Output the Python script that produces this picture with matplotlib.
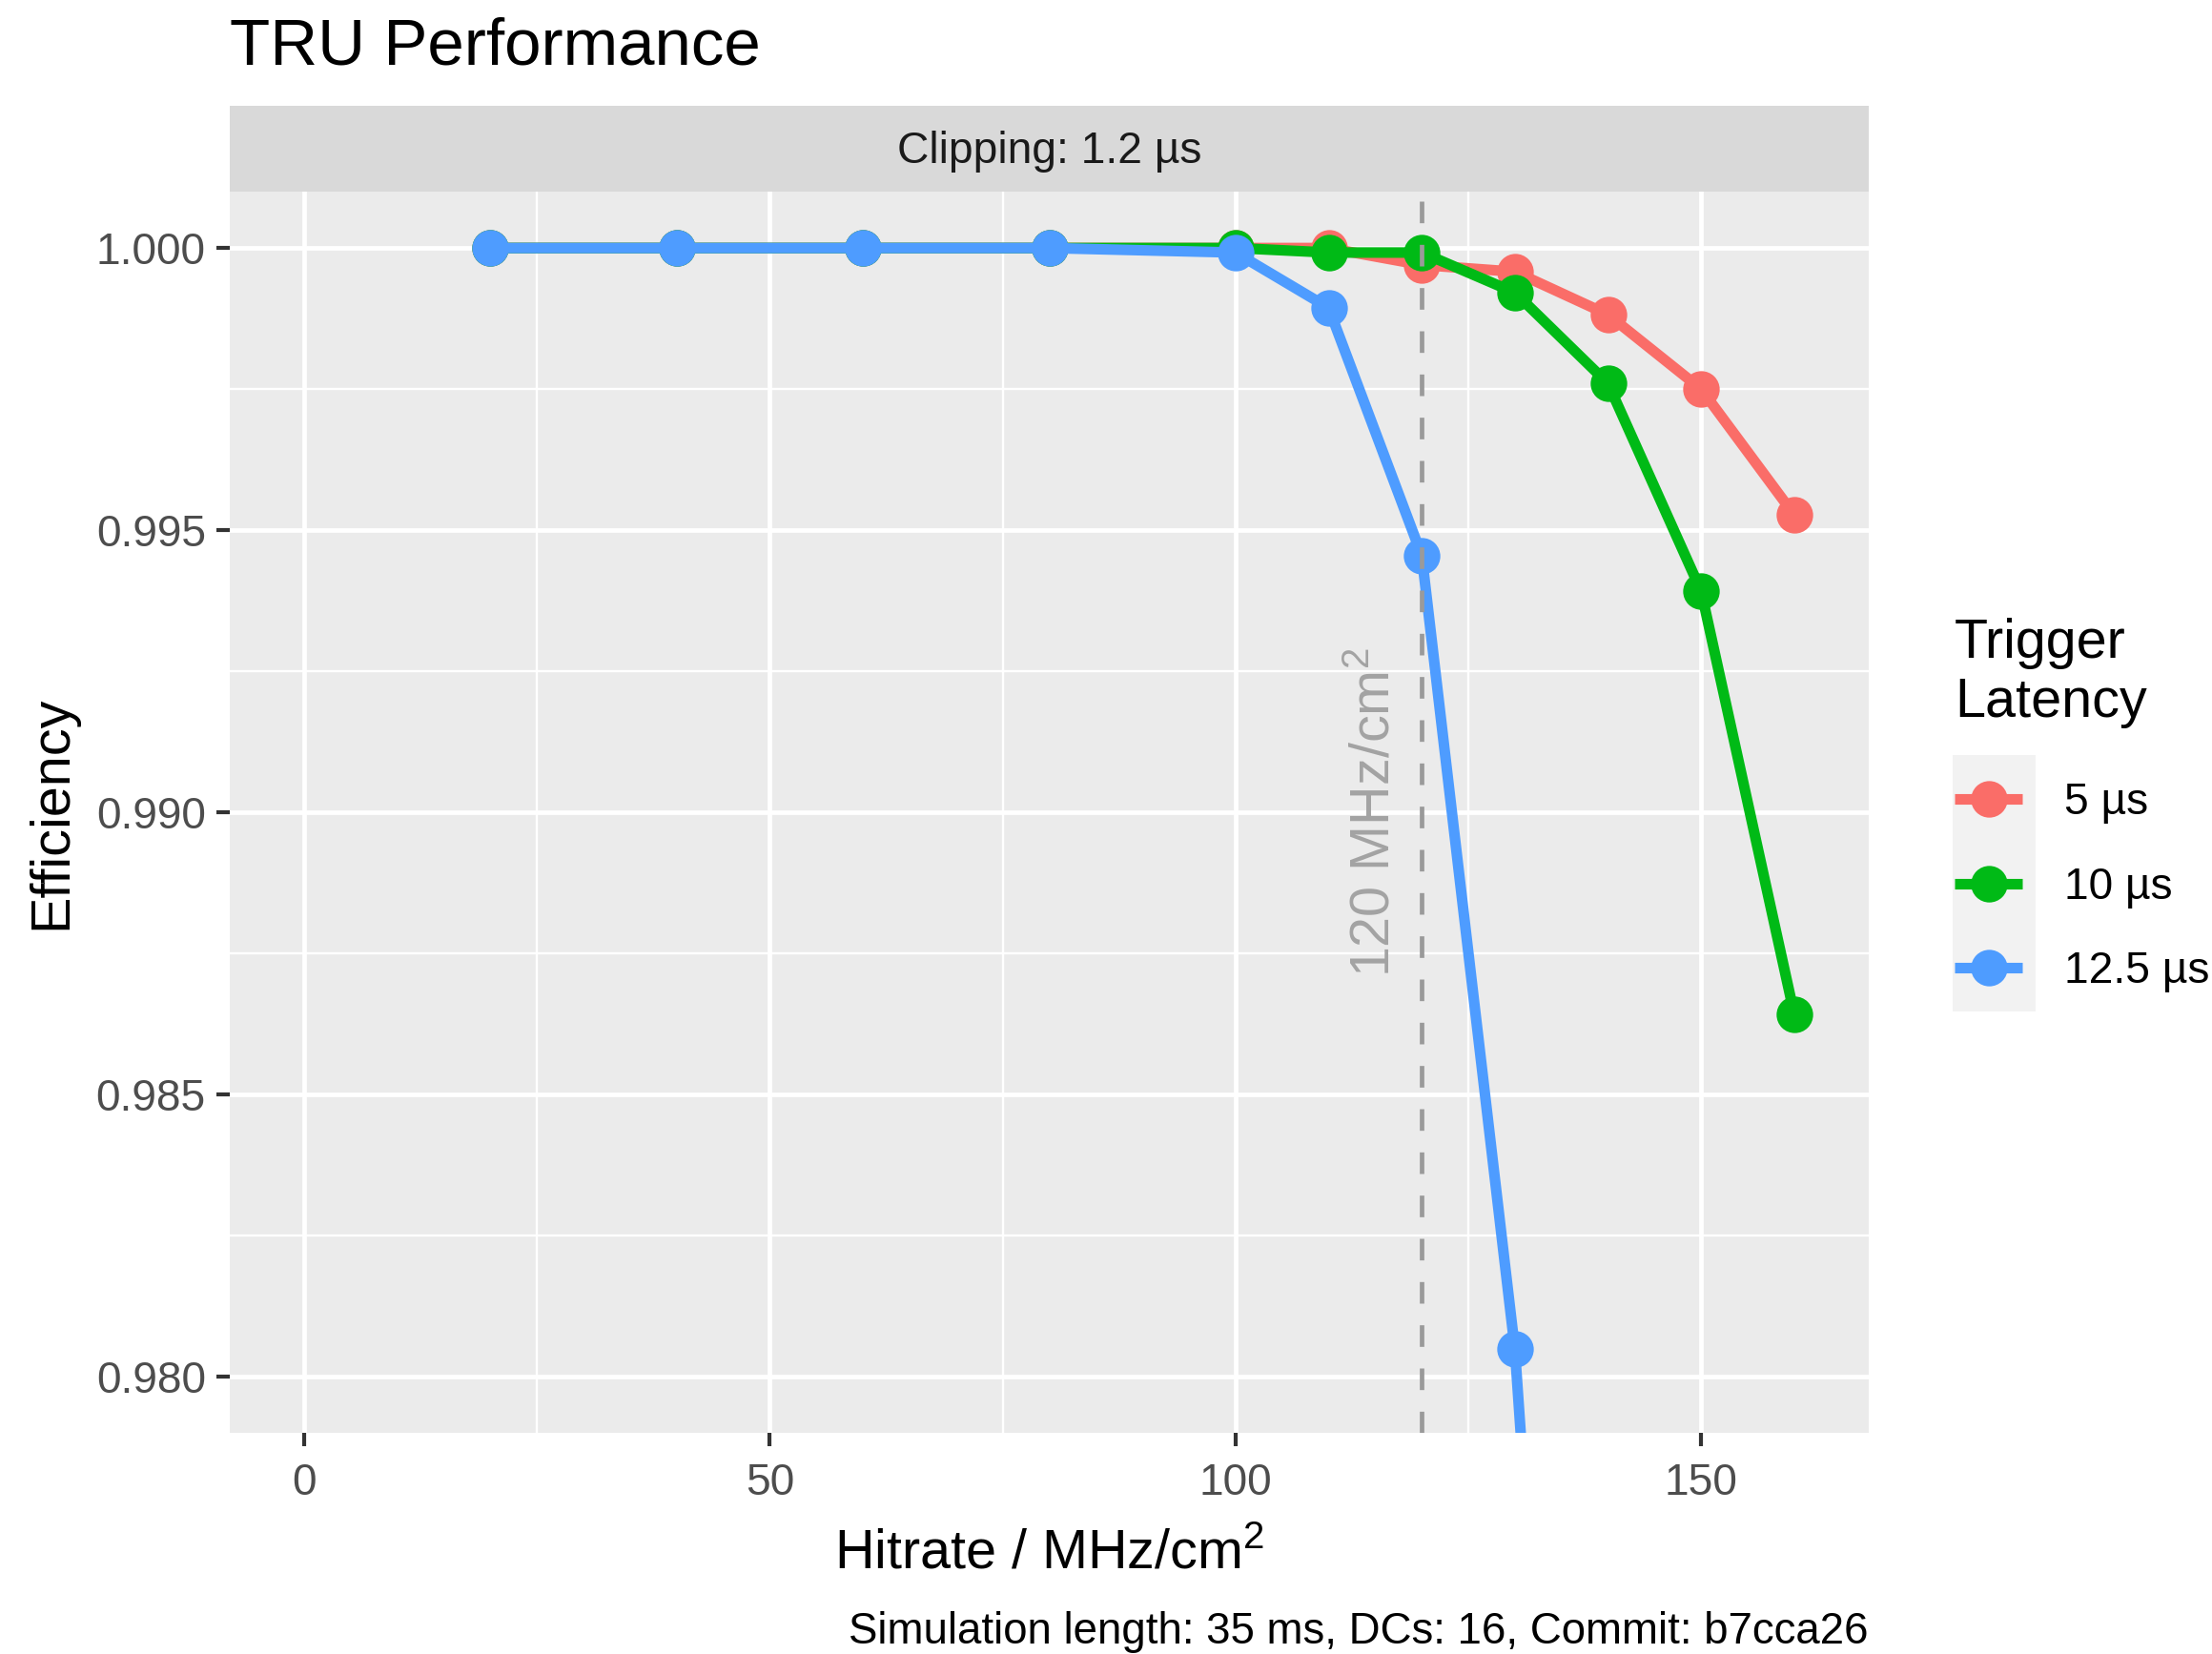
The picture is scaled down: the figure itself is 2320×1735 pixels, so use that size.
import matplotlib
matplotlib.use('Agg')
import matplotlib.pyplot as plt
from matplotlib.patches import Rectangle
from matplotlib.ticker import MultipleLocator, FormatStrFormatter

plt.rcParams['font.family'] = ['Liberation Sans', 'DejaVu Sans']
plt.rcParams['mathtext.fontset'] = 'custom'
plt.rcParams['mathtext.rm'] = 'Liberation Sans'
plt.rcParams['mathtext.it'] = 'Liberation Sans:italic'

# ---- data ----
latency_labels = ['5 µs', '10 µs', '12.5 µs']
series_colors = ['#FA6D68', '#00BA16', '#4E9CFF']

hitrate_5 = [20, 40, 60, 80, 100, 110, 120, 130, 140, 150, 160]
eff_5 = [1.0, 1.0, 1.0, 1.0, 1.0, 1.0, 0.9997, 0.99958, 0.99882, 0.9975, 0.99527]

hitrate_10 = [20, 40, 60, 80, 100, 110, 120, 130, 140, 150, 160]
eff_10 = [1.0, 1.0, 1.0, 1.0, 1.0, 0.99992, 0.99992, 0.99921, 0.9976, 0.99392, 0.98642]

hitrate_12_5 = [20, 40, 60, 80, 100, 110, 120, 130, 140]
eff_12_5 = [1.0, 1.0, 1.0, 1.0, 0.99992, 0.99894, 0.99455, 0.98048, 0.9567]

vline_x = 120
vline_label = '120 MHz/cm$^2$'
strip_label = 'Clipping: 1.2 µs'
title = 'TRU Performance'
xlabel = 'Hitrate / MHz/cm$^2$'
ylabel = 'Efficiency'
caption = 'Simulation length: 35 ms, DCs: 16, Commit: b7cca26'
x_ticks = [0, 50, 100, 150]
y_ticks = [0.980, 0.985, 0.990, 0.995, 1.000]

W, H = 2320, 1735
DPI = 200
fig = plt.figure(figsize=(W / DPI, H / DPI), dpi=DPI)

L, R, T, B = 241, 1960, 201, 1503
ax = fig.add_axes([L / W, 1 - B / H, (R - L) / W, (B - T) / H])
ax.set_facecolor('#EBEBEB')
for s in ax.spines.values():
    s.set_visible(False)

ax.set_xlim(-8, 168)
ax.set_ylim(0.979, 1.001)
ax.xaxis.set_minor_locator(MultipleLocator(25))
ax.yaxis.set_minor_locator(MultipleLocator(0.0025))
ax.set_xticks(x_ticks)
ax.set_yticks(y_ticks)
ax.yaxis.set_major_formatter(FormatStrFormatter('%.3f'))
ax.grid(which='major', color='white', linewidth=1.7)
ax.grid(which='minor', color='white', linewidth=0.85)
ax.set_axisbelow(True)
ax.tick_params(which='major', length=5, width=1.5, color='#333333',
               labelsize=16.6, labelcolor='#4D4D4D', pad=4)
ax.tick_params(axis='x', which='major', pad=6)
ax.tick_params(which='minor', length=0)

handles = []
for xs, ys, c, lab in [(hitrate_5, eff_5, series_colors[0], latency_labels[0]),
                       (hitrate_10, eff_10, series_colors[1], latency_labels[1]),
                       (hitrate_12_5, eff_12_5, series_colors[2], latency_labels[2])]:
    h, = ax.plot(xs, ys, color=c, linewidth=4.0, marker='o', markersize=12.8,
                 label=lab, zorder=3, solid_capstyle='butt')
    handles.append(h)

ax.axvline(vline_x, color='#9A9A9A', linewidth=1.7, dashes=(4.8, 4.8), zorder=4)
ax.text(115, 0.990, vline_label, rotation=90, ha='center', va='center',
        fontsize=20.7, color='#A3A3A3', zorder=4)

# strip
strip_h = 90 / (B - T)
ax.add_patch(Rectangle((0, 1), 1, strip_h, transform=ax.transAxes,
                       facecolor='#D9D9D9', edgecolor='none', clip_on=False))
ax.text(0.5, 1 + strip_h / 2 - 0.002, strip_label, transform=ax.transAxes,
        ha='center', va='center', fontsize=16.6, color='#1A1A1A')

# titles
fig.text(L / W, 1 - 67 / H, title, ha='left', va='baseline', fontsize=24.9)
ax.set_xlabel(xlabel, fontsize=20.7, labelpad=9.5)
ax.set_ylabel(ylabel, fontsize=20.7, labelpad=7)
fig.text(R / W, 1 - 1724 / H, caption, ha='right', va='baseline', fontsize=16.45)

# legend key background
fig.patches.append(Rectangle((2048 / W, 1 - 1061 / H), 87 / W, 269 / H,
                             transform=fig.transFigure, facecolor='#F2F2F2',
                             edgecolor='none', zorder=0))
leg = fig.legend(handles=handles, labels=latency_labels, loc='upper left',
                 bbox_to_anchor=(2050 / W, 1 - 648 / H), frameon=False,
                 fontsize=16.6, title='Trigger\nLatency', title_fontsize=20.7,
                 alignment='left', borderpad=0, borderaxespad=0,
                 handlelength=1.55, handletextpad=0.95, labelspacing=0.97,
                 numpoints=1)
leg._legend_box.sep = 20

fig.savefig('out.png', dpi=DPI, facecolor='white')
